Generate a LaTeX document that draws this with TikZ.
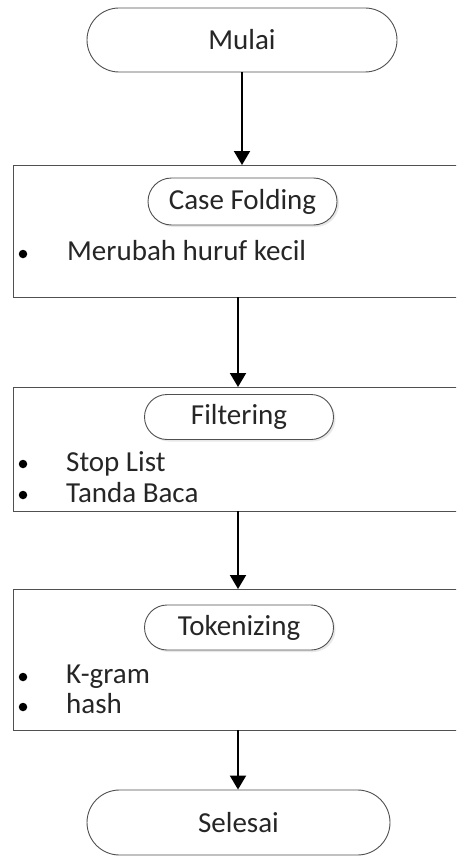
\documentclass[tikz,border=0pt]{standalone}
\usepackage{fontspec}
\setmainfont{Carlito}
\usetikzlibrary{shapes.misc,arrows.meta,shadows}
\definecolor{txt}{HTML}{262626}
\definecolor{edge}{HTML}{505050}
\tikzset{
  term/.style={draw=edge, line width=0.9pt, fill=white, rounded rectangle, inner sep=0pt, font=\fontsize{29}{32}\selectfont, text=txt},
  sub/.style={term, drop shadow={shadow xshift=2pt, shadow yshift=-2pt, opacity=0.18}},
  stagebox/.style={draw=edge, line width=1.1pt, fill=white, inner sep=0pt, minimum width=460pt},
  item/.style={anchor=base west, inner sep=0pt, font=\fontsize{29}{32}\selectfont, text=txt},
  dot/.style={circle, fill=black, inner sep=0pt, minimum size=8.5pt},
  flow/.style={line width=2pt, -{Triangle[width=16pt,length=14pt]}},
}
\begin{document}
\begin{tikzpicture}[x=1pt,y=-1pt]
\clip (0,0) rectangle (456,856);
\fill[white] (0,0) rectangle (456,856);

\node[term, minimum width=310pt, minimum height=64pt] (start) at (242,40) {Mulai};

\node[stagebox, minimum height=132pt, anchor=north west] (b1) at (13,165) {};
\node[sub, minimum width=189pt, minimum height=47pt] (s1) at (242.5,201.5) {Case Folding};
\node[dot] (d11) at (23,254) {};
\node[item] (t11) at (67,260) {Merubah huruf kecil};

\node[stagebox, minimum height=124pt, anchor=north west] (b2) at (13,387) {};
\node[sub, minimum width=189pt, minimum height=45pt] (s2) at (239,417) {Filtering};
\node[dot] (d21) at (23,464) {};
\node[item] (t21) at (66,471) {Stop List};
\node[dot] (d22) at (23,495) {};
\node[item] (t22) at (66,502) {Tanda Baca};

\node[stagebox, minimum height=141pt, anchor=north west] (b3) at (13,589) {};
\node[sub, minimum width=189pt, minimum height=45pt] (s3) at (239,627.5) {Tokenizing};
\node[dot] (d31) at (23,677) {};
\node[item] (t31) at (66,683) {K-gram};
\node[dot] (d32) at (23,707) {};
\node[item] (t32) at (66,713) {hash};

\node[term, minimum width=303pt, minimum height=65pt] (end) at (238.5,822.5) {Selesai};

\draw[flow] (start.south) -- (start.south |- b1.north);
\coordinate (o1) at (238,297);
\coordinate (o2) at (238,511);
\coordinate (o3) at (238,730);
\draw[flow] (o1) -- (o1 |- b2.north);
\draw[flow] (o2) -- (o2 |- b3.north);
\draw[flow] (o3) -- (o3 |- end.north);
\end{tikzpicture}
\end{document}
